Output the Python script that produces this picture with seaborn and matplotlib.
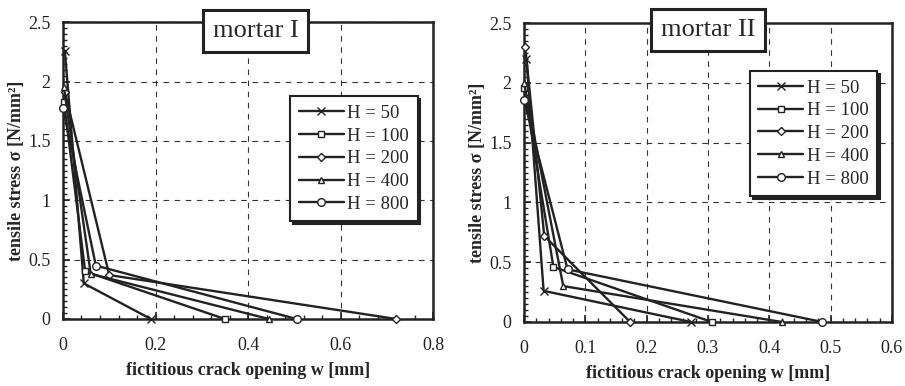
import seaborn as sns
import matplotlib.pyplot as plt
from matplotlib.ticker import MultipleLocator, FuncFormatter

# mortar I  (w [mm], sigma [N/mm2]) for each height H
m1_h50_w = [0.004, 0.045, 0.19]
m1_h50_s = [2.26, 0.30, 0.0]
m1_h100_w = [0.002, 0.048, 0.35]
m1_h100_s = [1.83, 0.40, 0.0]
m1_h200_w = [0.004, 0.10, 0.72]
m1_h200_s = [1.91, 0.37, 0.0]
m1_h400_w = [0.002, 0.06, 0.445]
m1_h400_s = [1.95, 0.38, 0.0]
m1_h800_w = [0.0, 0.071, 0.505]
m1_h800_s = [1.78, 0.45, 0.0]

# mortar II
m2_h50_w = [0.004, 0.032, 0.272]
m2_h50_s = [2.20, 0.26, 0.0]
m2_h100_w = [0.0, 0.048, 0.306]
m2_h100_s = [1.96, 0.46, 0.0]
m2_h200_w = [0.002, 0.033, 0.173]
m2_h200_s = [2.30, 0.72, 0.0]
m2_h400_w = [0.0, 0.064, 0.42]
m2_h400_s = [2.00, 0.30, 0.0]
m2_h800_w = [0.0, 0.071, 0.486]
m2_h800_s = [1.86, 0.44, 0.0]

labels = ["H = 50", "H = 100", "H = 200", "H = 400", "H = 800"]
markers = ["x", "s", "D", "^", "o"]
msizes = [6, 5, 4, 5, 5.5]

sns.set_style("ticks")
plt.rcParams['font.family'] = ['Liberation Serif', 'DejaVu Serif']

fig = plt.figure(figsize=(9.05, 3.86), dpi=100)
ax1 = fig.add_axes([0.0696, 0.1736, 0.409, 0.769])
ax2 = fig.add_axes([0.579, 0.166, 0.4066, 0.774])

panels = [
    (ax1, [(m1_h50_w, m1_h50_s), (m1_h100_w, m1_h100_s), (m1_h200_w, m1_h200_s),
           (m1_h400_w, m1_h400_s), (m1_h800_w, m1_h800_s)],
     "mortar I", 0.8, 0.2, 0.04, (0.52, 0.97), (0.614, 0.75)),
    (ax2, [(m2_h50_w, m2_h50_s), (m2_h100_w, m2_h100_s), (m2_h200_w, m2_h200_s),
           (m2_h400_w, m2_h400_s), (m2_h800_w, m2_h800_s)],
     "mortar II", 0.6, 0.1, 0.02, (0.5, 0.977), (0.614, 0.84)),
]

fmt = FuncFormatter(lambda v, p: f"{v:g}")

for ax, series, title, xmax, xmaj, xmin, tpos, lpos in panels:
    for (w, s), lab, mk, ms in zip(series, labels, markers, msizes):
        sns.lineplot(x=w, y=s, ax=ax, color="#222222", lw=1.7, sort=False,
                     marker=mk, markersize=ms, markerfacecolor="white",
                     markeredgecolor="#222222", markeredgewidth=1.0,
                     label=lab, clip_on=False, zorder=3)
    ax.set_xlim(0, xmax)
    ax.set_ylim(0, 2.5)
    ax.xaxis.set_major_locator(MultipleLocator(xmaj))
    ax.xaxis.set_minor_locator(MultipleLocator(xmin))
    ax.yaxis.set_major_locator(MultipleLocator(0.5))
    ax.yaxis.set_minor_locator(MultipleLocator(0.05))
    ax.xaxis.set_major_formatter(fmt)
    ax.yaxis.set_major_formatter(fmt)
    ax.tick_params(which="both", direction="in", labelsize=13, colors="#222222")
    ax.tick_params(which="major", length=5, width=1.2)
    ax.tick_params(which="minor", length=3, width=1.0)
    ax.tick_params(axis="x", which="major", pad=13)
    ax.tick_params(axis="y", which="major", pad=9)
    ax.grid(True, which="major", color="#333333", ls=(0, (5, 5)), lw=0.8)
    for sp in ax.spines.values():
        sp.set_visible(True)
        sp.set_linewidth(1.8)
        sp.set_color("#222222")
    ax.set_xlabel("fictitious crack opening w [mm]", fontsize=13, fontweight="bold",
                  labelpad=6)
    ax.set_ylabel("tensile stress σ [N/mm²]", fontsize=13, fontweight="bold",
                  labelpad=2)
    ax.text(tpos[0], tpos[1], title, transform=ax.transAxes, fontsize=19,
            ha="center", va="center", zorder=10,
            bbox=dict(boxstyle="square,pad=0.38", fc="white", ec="#222222", lw=2.2))
    leg = ax.legend(loc="upper left", bbox_to_anchor=lpos, fontsize=13.5,
                    handlelength=2.4, labelspacing=0.3, borderpad=0.45,
                    handletextpad=0.2, borderaxespad=0, fancybox=False,
                    framealpha=1, shadow={"color": "#222222", "alpha": 1})
    leg.get_frame().set_edgecolor("#222222")
    leg.get_frame().set_linewidth(1.5)

fig.savefig("out.png", dpi=100)
